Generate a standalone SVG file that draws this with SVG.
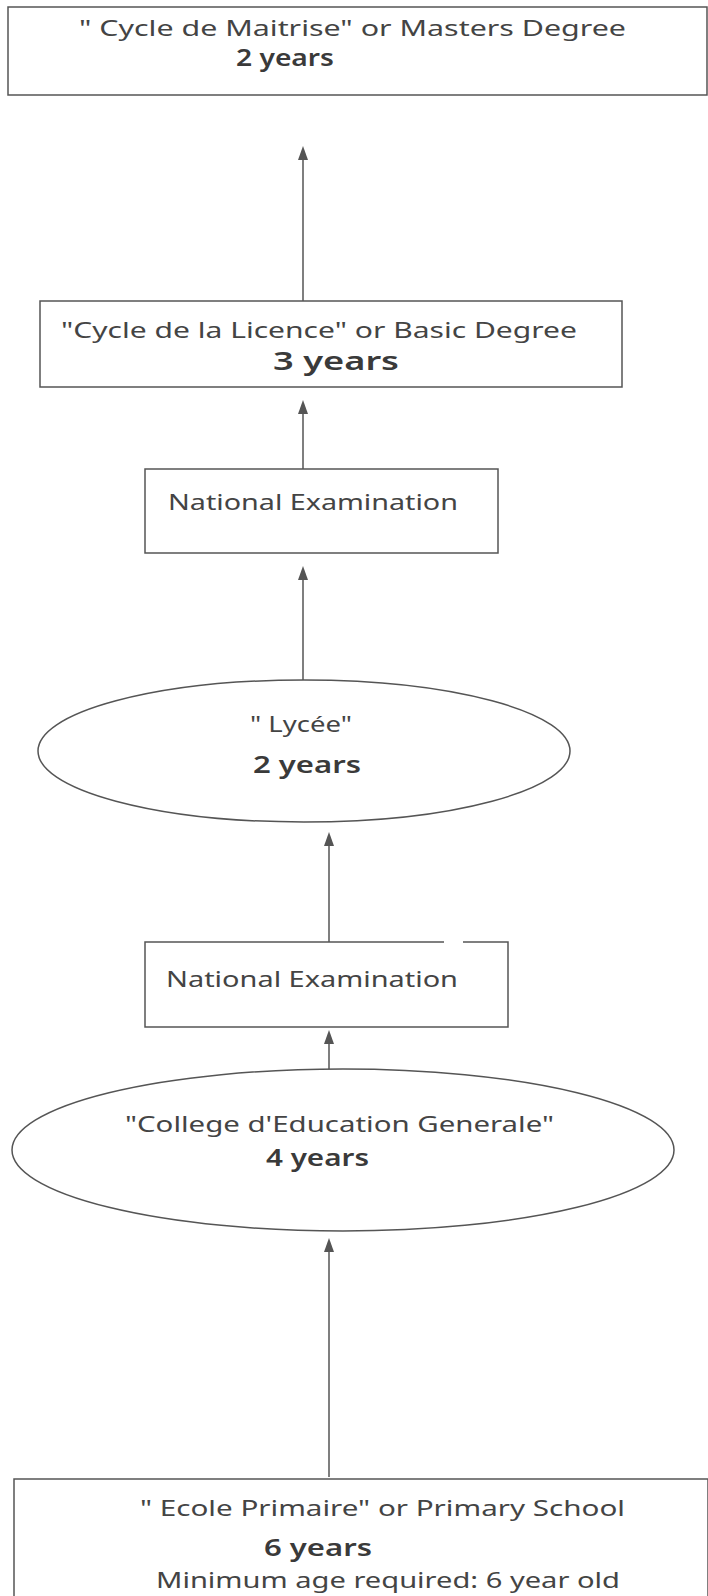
<svg xmlns="http://www.w3.org/2000/svg" width="708" height="1596" viewBox="0 0 708 1596">
  <style>
    .box { fill: #ffffff; stroke: #555555; stroke-width: 1.5; }
    .edge { stroke: #555555; stroke-width: 1.5; fill: none; }
    .head { fill: #555555; }
    .label { font-family: "Noto Sans", "Open Sans", sans-serif; font-size: 21px; fill: #444444; }
    .years { font-family: "Noto Sans", "Open Sans", sans-serif; font-size: 23px; font-weight: 600; fill: #3a3a3a; }
  </style>
  <defs>
    <!-- upward arrowhead, tip at (0,0) -->
    <path id="head" d="M-5,14 L0,0 L5,14 Z"/>
  </defs>
  <rect width="708" height="1596" fill="#ffffff"/>

  <g id="connectors">
    <line class="edge" x1="303" y1="301" x2="303" y2="150"/>
    <use href="#head" class="head" x="303" y="146"/>
    <line class="edge" x1="303" y1="469" x2="303" y2="404"/>
    <use href="#head" class="head" x="303" y="400"/>
    <line class="edge" x1="303" y1="680" x2="303" y2="570"/>
    <use href="#head" class="head" x="303" y="566"/>
    <line class="edge" x1="329" y1="942" x2="329" y2="836"/>
    <use href="#head" class="head" x="329" y="832"/>
    <line class="edge" x1="329" y1="1070" x2="329" y2="1034"/>
    <use href="#head" class="head" x="329" y="1030"/>
    <line class="edge" x1="329" y1="1477" x2="329" y2="1242"/>
    <use href="#head" class="head" x="329" y="1238"/>
  </g>

  <g id="masters">
    <rect class="box" x="8" y="7" width="699" height="88"/>
    <text class="label" x="79" y="36" textLength="547" lengthAdjust="spacingAndGlyphs">" Cycle de Maitrise" or Masters Degree</text>
    <text class="years" x="236" y="66" textLength="98" lengthAdjust="spacingAndGlyphs">2 years</text>
  </g>

  <g id="licence">
    <rect class="box" x="40" y="301" width="582" height="86"/>
    <text class="label" x="61" y="338" textLength="516" lengthAdjust="spacingAndGlyphs">"Cycle de la Licence" or Basic Degree</text>
    <text class="years" x="273" y="370" textLength="126" lengthAdjust="spacingAndGlyphs" style="font-size:25px">3 years</text>
  </g>

  <g id="exam-upper">
    <rect class="box" x="145" y="469" width="353" height="84"/>
    <text class="label" x="168" y="510" textLength="290" lengthAdjust="spacingAndGlyphs">National Examination</text>
  </g>

  <g id="lycee">
    <ellipse class="box" cx="304" cy="751" rx="266" ry="71"/>
    <text class="label" x="250" y="732" textLength="102" lengthAdjust="spacingAndGlyphs">" Lycée"</text>
    <text class="years" x="253" y="773" textLength="108" lengthAdjust="spacingAndGlyphs">2 years</text>
  </g>

  <g id="exam-lower">
    <rect x="145" y="942" width="363" height="85" fill="#ffffff"/>
    <path class="box" fill="none" d="M444,942 H145 V1027 H508 V942 H463"/>
    <text class="label" x="166" y="987" textLength="292" lengthAdjust="spacingAndGlyphs">National Examination</text>
  </g>

  <g id="college">
    <ellipse class="box" cx="343" cy="1150" rx="331" ry="81"/>
    <text class="label" x="125" y="1132" textLength="429" lengthAdjust="spacingAndGlyphs">"College d'Education Generale"</text>
    <text class="years" x="266" y="1166" textLength="103" lengthAdjust="spacingAndGlyphs">4 years</text>
  </g>

  <g id="primaire">
    <rect class="box" x="14" y="1479" width="694" height="130"/>
    <text class="label" x="140" y="1516" textLength="485" lengthAdjust="spacingAndGlyphs">" Ecole Primaire" or Primary School</text>
    <text class="years" x="264" y="1556" textLength="108" lengthAdjust="spacingAndGlyphs">6 years</text>
    <text class="label" x="156" y="1588" textLength="464" lengthAdjust="spacingAndGlyphs">Minimum age required: 6 year old</text>
  </g>
</svg>
